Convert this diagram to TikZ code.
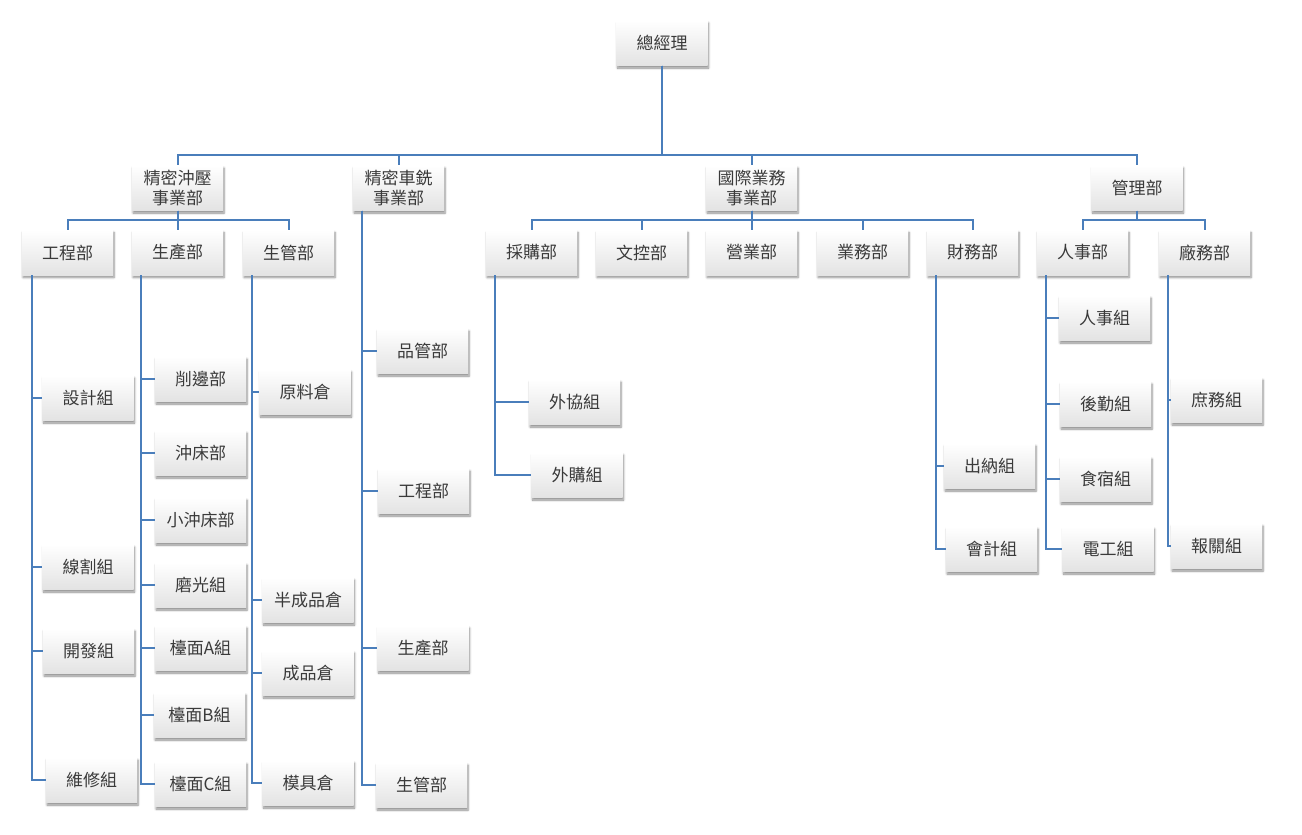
\documentclass[tikz,border=0pt]{standalone}
\usepackage{fontspec}
\setmainfont{Noto Sans CJK TC}
\usepackage{tikz}
\usetikzlibrary{shadows.blur}
\definecolor{linkblue}{HTML}{4A7EBB}
\definecolor{boxtext}{HTML}{3A3A3A}
\tikzset{unit/.style={rectangle,top color=white,bottom color=gray!22,minimum width=91pt,minimum height=45pt,inner sep=0pt,align=center,text=boxtext,font=\fontsize{17}{20}\selectfont,blur shadow={shadow xshift=1pt,shadow yshift=-2.5pt,shadow blur steps=6,shadow opacity=45}}}
\tikzset{link/.style={draw=linkblue,line width=2pt}}

\begin{document}
\begin{tikzpicture}[x=1pt,y=-1pt]
  \useasboundingbox (0,0) rectangle (1302,835);
  % top
  \node [unit] (gm) at (662,43) {總經理};
  % divisions
  \node [unit] (chongya) at (177.5,188) {精密沖壓\\事業部};
  \node [unit] (chexi) at (398.5,188) {精密車銑\\事業部};
  \node [unit] (guoji) at (751.5,188) {國際業務\\事業部};
  \node [unit] (guanli) at (1137,188) {管理部};
  % departments
  \node [unit] (gc1) at (67.5,252.5) {工程部};
  \node [unit] (sc1) at (177.5,252.5) {生產部};
  \node [unit] (sg1) at (288.5,252.5) {生管部};
  \node [unit] (caigou) at (531.5,252.5) {採購部};
  \node [unit] (wenkong) at (641.5,252.5) {文控部};
  \node [unit] (yingye) at (751.5,252.5) {營業部};
  \node [unit] (yewu) at (862.5,252.5) {業務部};
  \node [unit] (caiwu) at (972.5,252.5) {財務部};
  \node [unit] (renshi) at (1082.5,252.5) {人事部};
  \node [unit] (changwu) at (1204.5,252.5) {廠務部};
  % groups under 工程部
  \node [unit] (sheji) at (88,398) {設計組};
  \node [unit] (xiange) at (88,567) {線割組};
  \node [unit] (kaifa) at (88.5,651) {開發組};
  \node [unit] (weixiu) at (91.5,780) {維修組};
  % groups under 生產部
  \node [unit] (xiaobian) at (200.5,379) {削邊部};
  \node [unit] (chongchuang) at (200.5,453) {沖床部};
  \node [unit] (xiaochong) at (200.5,520) {小沖床部};
  \node [unit] (moguang) at (200.5,585) {磨光組};
  \node [unit] (taimianA) at (200.5,648) {檯面A組};
  \node [unit] (taimianB) at (199.5,715) {檯面B組};
  \node [unit] (taimianC) at (200.5,784) {檯面C組};
  % groups under 生管部
  \node [unit] (yuanliao) at (305,392) {原料倉};
  \node [unit] (banchengpin) at (308,600) {半成品倉};
  \node [unit] (chengpin) at (308,673) {成品倉};
  \node [unit] (moju) at (308,783) {模具倉};
  % departments under 精密車銑
  \node [unit] (pinguan) at (422.5,351) {品管部};
  \node [unit] (gc2) at (423.5,491) {工程部};
  \node [unit] (sc2) at (423,648) {生產部};
  \node [unit] (sg2) at (421.5,785) {生管部};
  % groups under 採購部
  \node [unit] (waixie) at (574.5,402) {外協組};
  \node [unit] (waigou) at (577,475) {外購組};
  % groups under 財務部
  \node [unit] (chuna) at (989.5,466) {出納組};
  \node [unit] (kuaiji) at (991.5,549) {會計組};
  % groups under 人事部
  \node [unit] (renshizu) at (1104.5,318) {人事組};
  \node [unit] (houqin) at (1105.5,404) {後勤組};
  \node [unit] (shisu) at (1105.5,479) {食宿組};
  \node [unit] (diangong) at (1108,549) {電工組};
  % groups under 廠務部
  \node [unit] (shuwu) at (1216.5,400) {庶務組};
  \node [unit] (baoguan) at (1216.5,546) {報關組};

  % connectors
  \foreach \c in {chongya,chexi,guoji,guanli}
    \draw [link] (gm.south) -- ++(0,89) -| (\c.north);
  \foreach \c in {gc1,sc1,sg1}
    \draw [link] (chongya.south) -- ++(0,9) -| (\c.north);
  \foreach \c in {caigou,wenkong,yingye,yewu,caiwu}
    \draw [link] (guoji.south) -- ++(0,9) -| (\c.north);
  \foreach \c in {renshi,changwu}
    \draw [link] (guanli.south) -- ++(0,9) -| (\c.north);
  \foreach \c in {sheji,xiange,kaifa,weixiu}
    \draw [link] ([xshift=10pt]gc1.south west) |- (\c.west);
  \foreach \c in {xiaobian,chongchuang,xiaochong,moguang,taimianA,taimianB,taimianC}
    \draw [link] ([xshift=9pt]sc1.south west) |- (\c.west);
  \foreach \c in {yuanliao,banchengpin,chengpin,moju}
    \draw [link] ([xshift=9pt]sg1.south west) |- (\c.west);
  \foreach \c in {pinguan,gc2,sc2,sg2}
    \draw [link] ([xshift=9pt]chexi.south west) |- (\c.west);
  \foreach \c in {waixie,waigou}
    \draw [link] ([xshift=9pt]caigou.south west) |- (\c.west);
  \foreach \c in {chuna,kuaiji}
    \draw [link] ([xshift=9pt]caiwu.south west) |- (\c.west);
  \foreach \c in {renshizu,houqin,shisu,diangong}
    \draw [link] ([xshift=9pt]renshi.south west) |- (\c.west);
  \foreach \c in {shuwu,baoguan}
    \draw [link] ([xshift=9pt]changwu.south west) |- (\c.west);
\end{tikzpicture}
\end{document}
